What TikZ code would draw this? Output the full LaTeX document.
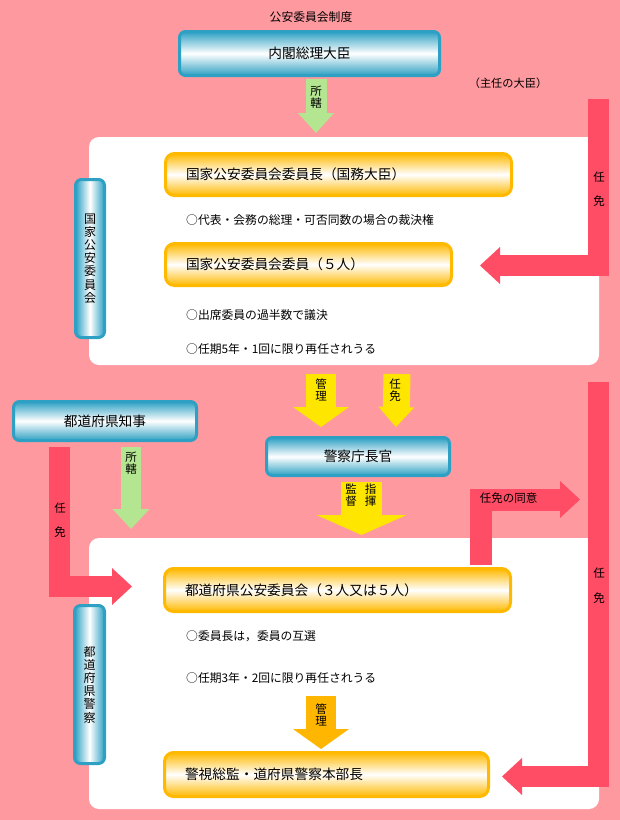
\documentclass[tikz,border=0pt]{standalone}
\usepackage{fontspec}
\setmainfont{Noto Sans CJK JP}
\usetikzlibrary{arrows.meta}
\definecolor{bgpink}{RGB}{255,153,160}
\definecolor{barred}{RGB}{255,77,102}
\definecolor{bargreen}{RGB}{180,230,145}
\definecolor{baryellow}{RGB}{255,230,0}
\definecolor{barorange}{RGB}{255,182,0}
\definecolor{edgecyan}{RGB}{45,160,195}
\definecolor{edgegold}{RGB}{255,185,0}
\lineskiplimit=-\maxdimen

\begin{document}
\begin{tikzpicture}[x=1pt, y=-1pt, font=\fontsize{11.8}{13}\selectfont]
\tikzset{
	panel/.style={fill=white, rounded corners=10pt, inner sep=0pt},
	cyanbox/.style={draw=edgecyan, line width=3pt, rounded corners=6pt, top color=edgecyan, bottom color=edgecyan, middle color=white, inner sep=0pt, font=\fontsize{13.7}{15}\selectfont},
	cyanvbox/.style={draw=edgecyan, line width=3pt, rounded corners=6pt, left color=edgecyan, right color=edgecyan, middle color=white, inner sep=0pt, align=center, font=\fontsize{12}{13.2}\selectfont},
	goldbox/.style={draw=edgegold, line width=3pt, rounded corners=9pt, top color=edgegold, bottom color=edgegold, middle color=white, inner xsep=20.5pt, inner ysep=0pt, minimum height=42pt, align=left, text width=#1, font=\fontsize{13.7}{15}\selectfont},
	note/.style={anchor=west, inner sep=0pt},
	fatarrow/.style n args={3}{draw=#3, line width=#1, -{Triangle[length=20pt, width=#2, line width=0pt]}},
	tag/.style={align=center, inner sep=0pt, font=\fontsize{11.5}{12}\selectfont},
	redtag/.style={align=center, inner sep=0pt, font=\fontsize{11.5}{24.5}\selectfont}
}
\useasboundingbox (0,0) rectangle (620,820);
\fill[bgpink] (0,0) rectangle (620,820);

% panels
\node[panel, minimum width=510pt, minimum height=228pt] (pnpsc) at (344,251) {};
\node[panel, minimum width=510pt, minimum height=271pt] (ppref) at (344,673.5) {};

% national level
\node (title) at (311,17) {公安委員会制度};
\node[cyanbox, minimum width=260pt, minimum height=44pt] (cabinet) at (309.5,53.5) {内閣総理大臣};
\node[font=\fontsize{11.2}{12}\selectfont] (minister) at (508,83) {（主任の大臣）};
\node[cyanvbox, minimum width=29pt, minimum height=158pt] (npsc) at (90,258.5) {国\\家\\公\\安\\委\\員\\会};
\node[goldbox=305pt] (chair) at (338.5,174.5) {国家公安委員会委員長（国務大臣）};
\node[goldbox=245pt] (members) at (308.5,264.5) {国家公安委員会委員（５人）};
\node[note] (n1) at (186,220) {○代表・会務の総理・可否同数の場合の裁決権};
\node[note] (n2) at (186,315) {○出席委員の過半数で議決};
\node[note] (n3) at (186,349) {○任期5年・1回に限り再任されうる};

% prefectural level
\node[cyanbox, minimum width=183pt, minimum height=39pt] (governor) at (105,421) {都道府県知事};
\node[cyanbox, minimum width=183pt, minimum height=38pt] (commissioner) at (358,456.5) {警察庁長官};
\node[cyanvbox, minimum width=30pt, minimum height=158pt] (prefpolice) at (89.5,684.5) {都\\道\\府\\県\\警\\察};
\node[goldbox=305pt, minimum height=43pt] (ppsc) at (337.5,590) {都道府県公安委員会（３人又は５人）};
\node[goldbox=283pt, minimum height=44pt] (chief) at (326.5,774.5) {警視総監・道府県警察本部長};
\node[note] (n4) at (186,636) {○委員長は，委員の互選};
\node[note] (n5) at (186,678) {○任期3年・2回に限り再任されうる};

% arrow ends
\coordinate (g1s) at (316,79);    \coordinate (g1e) at (316,133);
\coordinate (r1s) at (598.5,99);  \coordinate (r1e) at (480,265.5);
\coordinate (y1s) at (321,374);   \coordinate (y1e) at (321,427);
\coordinate (y2s) at (397,374);   \coordinate (y2e) at (396,427);
\coordinate (g2s) at (131,447);   \coordinate (g2e) at (131,529);
\coordinate (r2s) at (59.5,447);  \coordinate (r2e) at (132,586.5);
\coordinate (y3s) at (361.5,482); \coordinate (y3e) at (361.5,535);
\coordinate (r3s) at (480.5,565); \coordinate (r3e) at (580,499.5);
\coordinate (r4s) at (598.5,382); \coordinate (r4e) at (502,776.5);
\coordinate (o1s) at (321,696);   \coordinate (o1e) at (321,749);

\draw[fatarrow={21pt}{36pt}{bargreen}] (g1s) -- (g1e);
\draw[fatarrow={21pt}{37pt}{barred}] (r1s) |- (r1e);
\draw[fatarrow={30pt}{56pt}{baryellow}] (y1s) -- (y1e);
\draw[fatarrow={27pt}{36pt}{baryellow}] (y2s) -- (y2e);
\draw[fatarrow={20pt}{37pt}{bargreen}] (g2s) -- (g2e);
\draw[fatarrow={21pt}{37pt}{barred}] (r2s) |- (r2e);
\draw[fatarrow={41pt}{90pt}{baryellow}] (y3s) -- (y3e);
\draw[fatarrow={22pt}{37pt}{barred}] (r3s) |- (r3e);
\draw[fatarrow={21pt}{37pt}{barred}] (r4s) |- (r4e);
\draw[fatarrow={30pt}{56pt}{barorange}] (o1s) -- (o1e);

% arrow labels
\node[tag] (t1) at (316,97) {所\\轄};
\node[redtag] (t2) at (599,189) {任\\免};
\node[tag] (t3) at (321,390) {管\\理};
\node[tag] (t4) at (395,390) {任\\免};
\node[tag] (t5) at (131,463.5) {所\\轄};
\node[redtag] (t6) at (60,520) {任\\免};
\node[tag] (t7) at (351,495) {監\\督};
\node[tag] (t8) at (370.5,495) {指\\揮};
\node[tag] (t9) at (508.5,498.5) {任免の同意};
\node[redtag] (t10) at (599,585.5) {任\\免};
\node[tag] (t11) at (321,714.5) {管\\理};

\end{tikzpicture}
\end{document}
